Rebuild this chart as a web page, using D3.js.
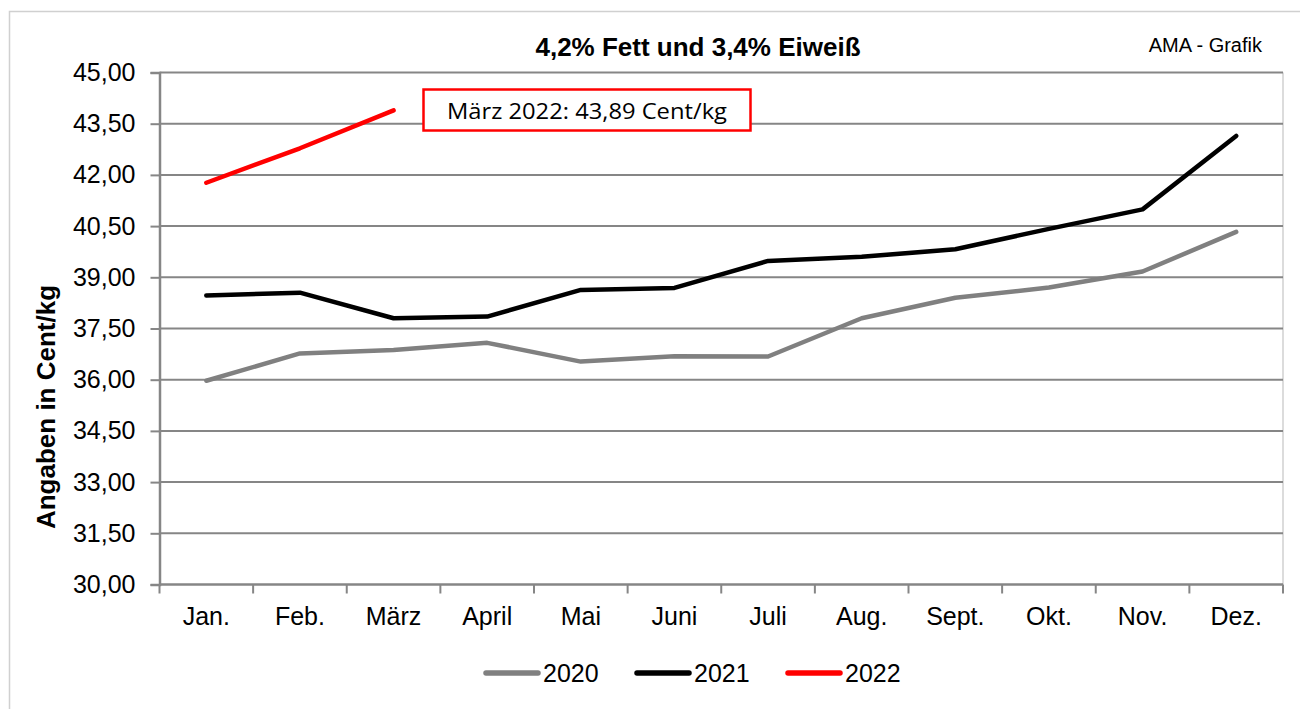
<!DOCTYPE html>
<html>
<head>
<meta charset="utf-8">
<script src="https://cdn.jsdelivr.net/npm/d3@7"></script>
<style>
  body { margin: 0; background: #fff; }
  svg { display: block; font-family: "Liberation Sans", Arial, sans-serif; }
</style>
</head>
<body>
<svg id="chart" width="1300" height="709"></svg>
<script>
// chart data
var months = ["Jan.", "Feb.", "März", "April", "Mai", "Juni", "Juli", "Aug.", "Sept.", "Okt.", "Nov.", "Dez."]
var values2020 = [35.97, 36.77, 36.87, 37.08, 36.53, 36.69, 36.68, 37.80, 38.40, 38.70, 39.17, 40.33]
var values2021 = [38.47, 38.55, 37.80, 37.85, 38.63, 38.69, 39.48, 39.60, 39.82, 40.42, 40.99, 43.14]
var values2022 = [41.77, 42.78, 43.89]
var yTicks = [30, 31.5, 33, 34.5, 36, 37.5, 39, 40.5, 42, 43.5, 45]

var series = [
  { name: "2020", values: values2020, color: "#808080" },
  { name: "2021", values: values2021, color: "#000000" },
  { name: "2022", values: values2022, color: "#ff0000" }
]

var svg = d3.select("#chart")
var plotLeft = 159.5, plotRight = 1283, plotTop = 72.5, plotBottom = 584.5

var x = d3.scaleBand().domain(months).range([plotLeft, plotRight])
var y = d3.scaleLinear().domain([30, 45]).range([plotBottom, plotTop])
var fmt = function(v) { return v.toFixed(2).replace(".", ",") }

// outer frame
svg.append("rect")
   .attr("x", 9.5).attr("y", 11.5)
   .attr("width", 1300).attr("height", 720)
   .attr("fill", "none").attr("stroke", "#d0d0d0").attr("stroke-width", 1.5)

// plot area right border
svg.append("line")
   .attr("x1", plotRight).attr("x2", plotRight).attr("y1", plotTop).attr("y2", plotBottom)
   .attr("stroke", "#d0d0d0").attr("stroke-width", 1.5)

// gridlines
svg.append("g").selectAll("line")
   .data(yTicks.filter(function(t) { return t > 30 }))
   .enter().append("line")
   .attr("x1", plotLeft).attr("x2", plotRight)
   .attr("y1", function(d) { return y(d) }).attr("y2", function(d) { return y(d) })
   .attr("stroke", "#868686").attr("stroke-width", 2)

// y axis
var yAxis = svg.append("g")
   .attr("transform", "translate(" + plotLeft + ",0)")
   .call(d3.axisLeft(y).tickValues(yTicks).tickFormat(fmt).tickSize(9).tickPadding(15))
yAxis.select(".domain").attr("stroke", "#868686").attr("stroke-width", 2.5)
yAxis.selectAll(".tick line").attr("stroke", "#868686").attr("stroke-width", 2)
yAxis.selectAll("text").attr("font-size", 25).attr("fill", "#000")
   .attr("font-family", "Liberation Sans, Arial, sans-serif")

// x axis (ticks at band edges)
var xAxisG = svg.append("g").attr("transform", "translate(0," + plotBottom + ")")
xAxisG.append("line")
   .attr("x1", plotLeft).attr("x2", plotRight)
   .attr("stroke", "#868686").attr("stroke-width", 2.5)
var edges = months.map(function(m) { return x(m) }).concat([plotRight])
xAxisG.selectAll("line.tick")
   .data(edges)
   .enter().append("line")
   .attr("class", "tick")
   .attr("x1", function(d) { return d }).attr("x2", function(d) { return d })
   .attr("y1", 0).attr("y2", 9)
   .attr("stroke", "#868686").attr("stroke-width", 2)
xAxisG.selectAll("text")
   .data(months)
   .enter().append("text")
   .attr("x", function(d) { return x(d) + x.bandwidth() / 2 })
   .attr("y", 40.5)
   .attr("text-anchor", "middle")
   .attr("font-size", 25)
   .text(function(d) { return d })

// lines
var line = d3.line()
   .x(function(d, i) { return x(months[i]) + x.bandwidth() / 2 })
   .y(function(d) { return y(d) })

svg.append("g").selectAll("path")
   .data(series)
   .enter().append("path")
   .attr("d", function(s) { return line(s.values) })
   .attr("fill", "none")
   .attr("stroke", function(s) { return s.color })
   .attr("stroke-width", 4.5)
   .attr("stroke-linecap", "round")
   .attr("stroke-linejoin", "round")

// titles
svg.append("text")
   .attr("x", 698).attr("y", 56)
   .attr("text-anchor", "middle")
   .attr("font-size", 26).attr("font-weight", "bold")
   .text("4,2% Fett und 3,4% Eiweiß")

svg.append("text")
   .attr("x", 1262).attr("y", 52)
   .attr("text-anchor", "end")
   .attr("font-size", 20)
   .text("AMA - Grafik")

svg.append("text")
   .attr("transform", "translate(55,407) rotate(-90)")
   .attr("text-anchor", "middle")
   .attr("font-size", 26).attr("font-weight", "bold")
   .text("Angaben in Cent/kg")

// annotation box
svg.append("rect")
   .attr("x", 423.5).attr("y", 89.5)
   .attr("width", 327).attr("height", 41)
   .attr("fill", "#fff").attr("stroke", "#ff0000").attr("stroke-width", 2.5)
svg.append("text")
   .attr("x", 587).attr("y", 119)
   .attr("text-anchor", "middle")
   .attr("font-family", "Open Sans, sans-serif")
   .attr("font-size", 21)
   .attr("textLength", 280).attr("lengthAdjust", "spacingAndGlyphs")
   .text("März 2022: " + fmt(values2022[2]) + " Cent/kg")

// legend
var legend = svg.append("g").selectAll("g")
   .data(series)
   .enter().append("g")
   .attr("transform", function(s, i) { return "translate(" + (486 + i * 151) + ",673)" })
legend.append("line")
   .attr("x1", 0).attr("x2", 52)
   .attr("stroke", function(s) { return s.color })
   .attr("stroke-width", 5.5)
   .attr("stroke-linecap", "round")
legend.append("text")
   .attr("x", 57).attr("y", 9)
   .attr("font-size", 25)
   .text(function(s) { return s.name })
</script>
</body>
</html>
